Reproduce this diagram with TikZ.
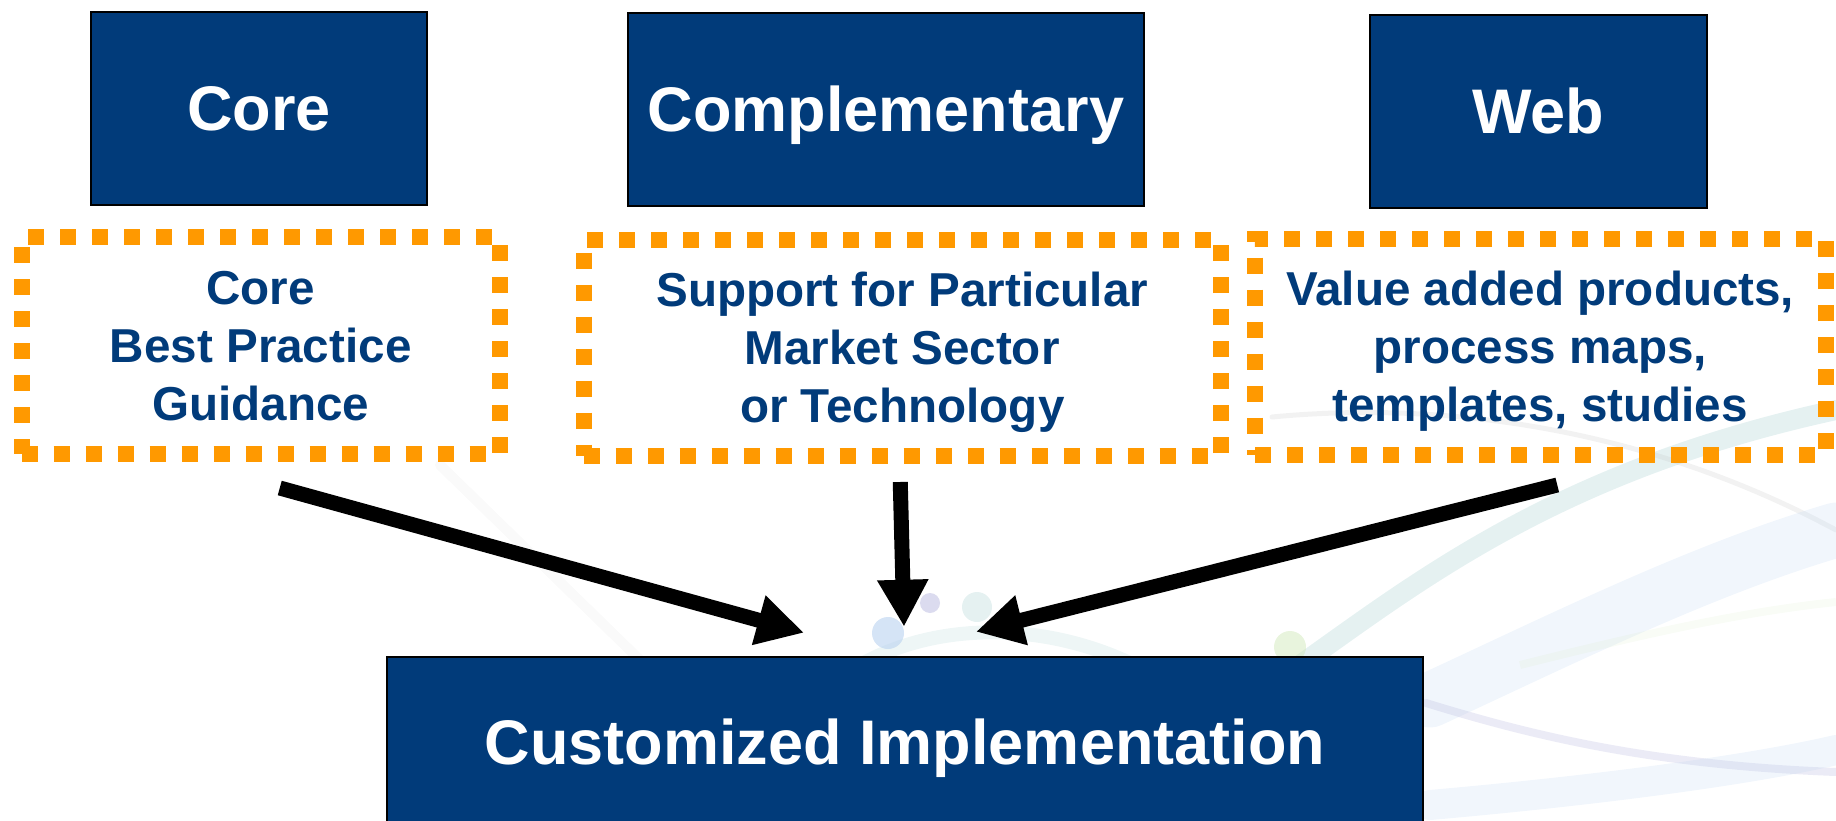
\documentclass[tikz,border=0pt]{standalone}
\usepackage{fontspec}
\setmainfont{Liberation Sans}
\usetikzlibrary{arrows.meta,calc}

\definecolor{navy}{RGB}{1,59,122}
\definecolor{amber}{RGB}{255,153,0}
\definecolor{swteal}{RGB}{170,210,210}
\definecolor{swblue}{RGB}{185,210,240}
\definecolor{swlav}{RGB}{190,190,225}
\definecolor{swgreen}{RGB}{205,230,180}

\begin{document}
\begin{tikzpicture}[x=1pt,y=-1pt,
  titlebox/.style={draw=black, line width=2.5pt, fill=navy, text=white,
    font=\fontsize{63}{70}\selectfont\bfseries, text height=45pt, text depth=0pt, inner sep=0pt},
  dotbox/.style={draw=amber, line width=16pt, dash pattern=on 16pt off 16pt,
    text=navy, align=center, font=\fontsize{47.6}{58}\selectfont\bfseries,
    text depth=0pt, inner sep=0pt},
  flow/.style={line width=15pt, -{Triangle[length=47pt,width=48pt]}},
  swoosh/.style={line cap=round, opacity=0.3},
]
\useasboundingbox (0,0) rectangle (1836,821);
\clip (0,0) rectangle (1836,821);

% soft background swooshes
\draw[swoosh, swteal, line width=14pt, opacity=0.2] (860,665) .. controls (940,620) and (1050,622) .. (1140,668);
\draw[swoosh, swteal, line width=20pt, opacity=0.3] (1300,665) .. controls (1420,580) and (1560,470) .. (1836,410);
\draw[swoosh, black!25, line width=5pt, opacity=0.2] (1272,417) .. controls (1450,400) and (1650,430) .. (1836,530);
\draw[swoosh, swblue, line width=55pt, opacity=0.2] (1430,700) .. controls (1560,640) and (1700,570) .. (1836,530);
\draw[swoosh, swlav, line width=8pt, opacity=0.3] (1426,703) .. controls (1530,735) and (1650,765) .. (1836,772);
\draw[swoosh, swblue, line width=30pt, opacity=0.2] (1430,805) .. controls (1600,790) and (1750,770) .. (1836,750);
\draw[line cap=butt, swgreen, line width=8pt, opacity=0.12] (1520,665) .. controls (1640,635) and (1740,612) .. (1836,602);
\draw[swoosh, black!10, line width=10pt, opacity=0.2] (440,465) -- (640,660);
\fill[swblue, opacity=0.6] (888,633) circle (16);
\fill[swlav, opacity=0.55] (930,603) circle (10);
\fill[swteal, opacity=0.3] (977,607) circle (15);
\fill[swgreen, opacity=0.45] (1290,647) circle (16);

% category headers
\node[titlebox, minimum width=336pt, minimum height=193pt] (core) at (259,108.5) {Core};
\node[titlebox, minimum width=516pt, minimum height=193pt] (comp) at (886,109.5) {Complementary};
\node[titlebox, minimum width=337pt, minimum height=193pt] (web) at (1538.5,111.5) {Web};

% descriptions
\node[dotbox, minimum width=478.5pt, minimum height=217pt] (box1) at (260.75,345.5)
  {Core\\Best Practice\\Guidance};
\node[dotbox, minimum width=637.5pt, minimum height=216pt] (box2) at (902.25,347.5)
  {Support for Particular\\Market Sector\\or Technology};
\node[dotbox, minimum width=570.5pt, minimum height=216pt] (box3) at (1540.25,346.5)
  {Value added products,\\process maps,\\templates, studies};

% result
\node[titlebox, minimum width=1036pt, minimum height=170pt] (impl) at (905,742)
  {Customized Implementation};

% arrow end points
\coordinate (s1) at ($(box1.south)+(19,26)$);
\coordinate (s2) at ($(box2.south)+(-2,18.5)$);
\coordinate (s3) at ($(box3.south)+(17,22.5)$);
\coordinate (e1) at ($(impl.north)+(-101,-23)$);
\coordinate (e2) at ($(impl.north)+(-1,-29)$);
\coordinate (e3) at ($(impl.north)+(71,-24)$);

\draw[flow] (s1) -- (e1);
\draw[flow] (s2) -- (e2);
\draw[flow] (s3) -- (e3);
\end{tikzpicture}
\end{document}
